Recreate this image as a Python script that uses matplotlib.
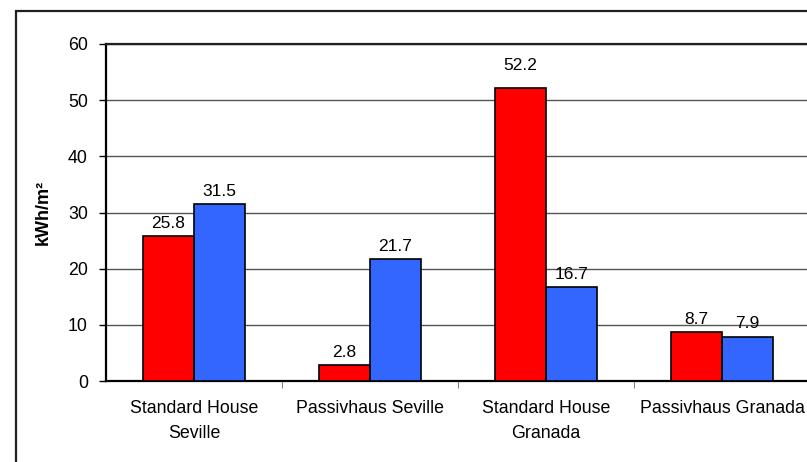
import matplotlib.pyplot as plt
from matplotlib.patches import Rectangle
import numpy as np

categories = ['Standard House\nSeville', 'Passivhaus Seville', 'Standard House\nGranada', 'Passivhaus Granada']
red_values = [25.8, 2.8, 52.2, 8.7]
blue_values = [31.5, 21.7, 16.7, 7.9]
y_ticks = [0, 10, 20, 30, 40, 50, 60]

plt.rcParams['font.family'] = ['Liberation Sans', 'DejaVu Sans']

W, H = 807, 462
fig = plt.figure(figsize=(W / 100, H / 100), dpi=100)
ax = fig.add_axes([106 / W, 1 - 381 / H, 704 / W, 337 / H])

# outer chart frame (only left and top edges are visible)
fig.add_artist(Rectangle((16 / W, -0.5), 2, 0.5 + 1 - 11 / H, transform=fig.transFigure,
                         fill=False, edgecolor='#202020', linewidth=1.6, clip_on=False))

x = np.arange(len(categories))
bw = 0.29
ax.bar(x - bw / 2, red_values, bw, color='#ff0000', edgecolor='black', linewidth=1.2, zorder=3)
ax.bar(x + bw / 2, blue_values, bw, color='#3366ff', edgecolor='black', linewidth=1.2, zorder=3)

for i in range(len(categories)):
    extra = 7 if red_values[i] > 50 else 0
    ax.annotate(f'{red_values[i]:.1f}', (x[i] - bw / 2, red_values[i]), xytext=(0, 4 + extra),
                textcoords='offset points', ha='center', va='bottom', fontsize=12.5)
    ax.annotate(f'{blue_values[i]:.1f}', (x[i] + bw / 2, blue_values[i]), xytext=(0, 4),
                textcoords='offset points', ha='center', va='bottom', fontsize=12.5)

ax.set_xlim(-0.5, 3.5)
ax.set_ylim(0, 60)
ax.set_yticks(y_ticks)
ax.yaxis.grid(True, color='#555555', linewidth=1.0, zorder=0)
ax.set_axisbelow(True)

ax.set_xticks(x)
ax.set_xticklabels(categories, fontsize=12.8, linespacing=1.6)
ax.set_xticks(np.arange(0.5, 4, 1), minor=True)
ax.tick_params(axis='x', which='major', length=0, pad=14)
ax.tick_params(axis='x', which='minor', length=5, color='#666666', direction='out')
ax.tick_params(axis='y', length=5, width=1, pad=8, labelsize=12.8)

ax.spines['right'].set_visible(False)
ax.spines['top'].set_color('#202020')
ax.spines['top'].set_linewidth(1.6)
ax.spines['left'].set_linewidth(1.6)
ax.spines['bottom'].set_linewidth(1.6)

ax.set_ylabel('kWh/m²', fontsize=13, fontweight='bold', labelpad=12)

fig.savefig('out.png', dpi=100)
